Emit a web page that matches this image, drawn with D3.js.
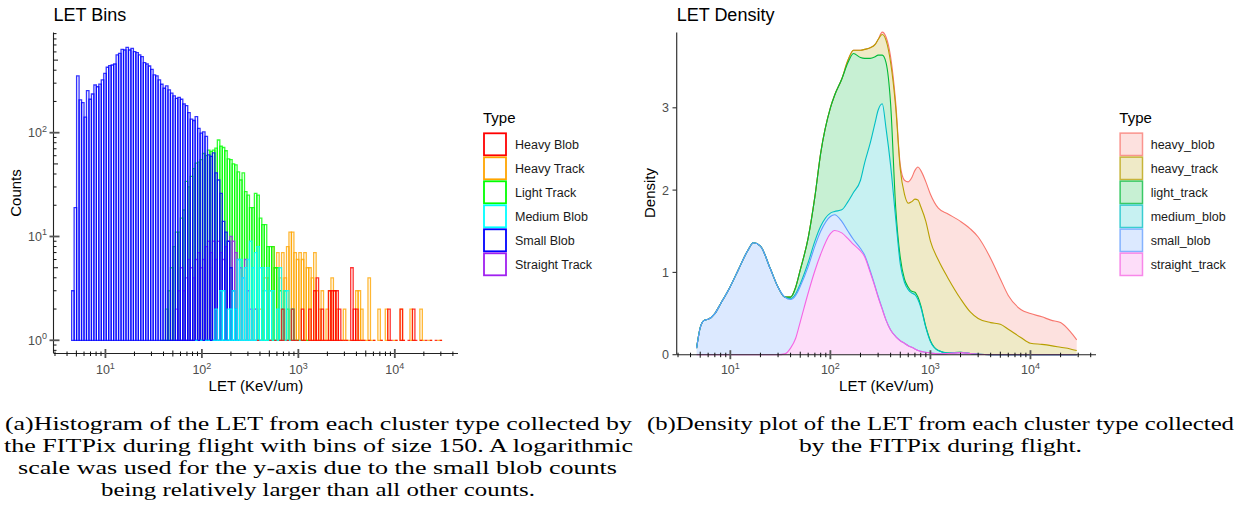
<!DOCTYPE html>
<html>
<head>
<meta charset="utf-8">
<script src="https://cdn.jsdelivr.net/npm/d3@7/dist/d3.min.js"></script>
<style>
  html, body { margin: 0; padding: 0; background: #ffffff; }
  svg { display: block; }
</style>
</head>
<body>
<svg id="fig" width="1239" height="514"></svg>
<script>
// ================= Panel (a): LET histogram =================
const histTypes  = ["Heavy Blob", "Heavy Track", "Light Track", "Medium Blob", "Small Blob", "Straight Track"];
const histColors = ["#FF0000", "#FFA500", "#00FF00", "#00FFFF", "#0000FF", "#A020F0"];

// log10(LET) binning: 150 bins centred from the smallest to the largest LET
const letMin = 4.6;
const letMax = 30000;
const binCount = 150;

// counts per bin; each list starts at the bin index given by its *FirstBin
const heavyBlobFirstBin = 75;
const heavyBlobCounts = [
  1,0,0,0,0, 1,0,1,0,1, 2,0,1,0,2, 1,1,0,2,1, 0,2,1,3,4,
  1,2,1,1,3, 3,3,3,2,1, 1,1,0,5,2, 2,1,1,1,0, 1,0,1,0,0,
  1,0,0,2,1, 0,1,0,2,1, 0,1,0,2,1, 0,1,0,1,0, 1,0,1,0,1
];
const heavyTrackFirstBin = 70;
const heavyTrackCounts = [
  1,0,1,0,2, 0,2,3,4,4, 3,8,5,7,4, 7,4,8,11,11, 7,6,7,6,7,
  5,5,4,7,3, 2,3,1,2,3, 4,3,2,1,1, 2,1,1,1,1, 3,3,2,1,1,
  4,1,1,0,2, 1,0,2,1,0, 1,1,0,2,1, 0,0,2,1,0, 0,2,1,0,1,
  1,0,0,1,1
];
const lightTrackFirstBin = 36;
const lightTrackCounts = [
  1,1,2,3,5, 8,11,11,15,18, 34,30,38,45,51, 52,55,63,60,68,
  66,68,71,85,74, 72,67,56,55,50, 49,42,35,41,27, 25,19,19,26,25,
  15,13,13,8,8, 8,5,5,3,2, 3,2,1,2,1, 1,0,1,0,1
];
const mediumBlobFirstBin = 50;
const mediumBlobCounts = [
  1,0,1,0,1, 1,0,1,2,1, 3,3,1,2,2, 3,2,6,6,4, 5,6,9,5,7,
  8,5,5,3,5, 3,3,1,2,5, 2,3,3,1,2, 1,0,1
];
const smallBlobFirstBin = 0;
const smallBlobCounts = [
  3,19,352,207,195,141,254,210,236,288,
  277,294,322,373,427,442,449,459,561,582,
  636,626,665,626,650,604,590,561,540,473,
  459,439,408,360,352,322,293,268,282,258,
  240,226,214,219,210,189,182,156,135,131,
  143,110,99,102,92,61,59,64,41,35,
  26,14,11,9,5,3,2,1
];
const straightTrackFirstBin = 40;
const straightTrackCounts = [
  1,0,2,3,5, 3,4,6,5,4, 6,7,5,6,8, 9,7,9,6,9,
  7,6,8,9,10, 9,7,6,5,4, 6,3,2,1,2, 0,1
];

const countTickExponents = [0, 1, 2];
const letTickExponents = [1, 2, 3, 4];

// ================= Panel (b): LET density (stacked) =================
const densityTypes  = ["heavy_blob", "heavy_track", "light_track", "medium_blob", "small_blob", "straight_track"];
const densityColors = ["#F8766D", "#B79F00", "#00BA38", "#00BFC4", "#619CFF", "#F564E3"];

const letGrid = [4.6, 5, 5.5, 6, 7, 8, 10, 12, 15, 17, 20, 25, 30, 35, 40, 45, 50, 60, 70, 80,
  100, 110, 130, 150, 170, 200, 220, 250, 280, 300, 330, 360, 400, 450, 500, 550, 600, 650, 700, 750,
  800, 900, 1000, 1200, 1500, 2000, 2500, 3000, 4000, 5000, 6000, 8000, 10000, 13000, 16000, 20000, 25000, 29000];

const heavyBlobDensity = [0,0,0,0,0,0,0,0,0,0, 0,0,0,0,0,0,0,0,0,0,
  0,0,0,0,0,0,0,0,0,0, 0.03,0.04,0.07,0.06,0.05,0.17,0.26,0.29,0.35,0.40,
  0.44,0.48,0.57,0.63,0.78,0.94,1.01,0.99,0.78,0.55, 0.41,0.34,0.36,0.335,0.31,0.30,0.21,0.13];
const heavyTrackDensity = [0,0,0,0,0,0,0,0,0,0, 0,0,0,0,0,0,0,0,0,0,
  0,0,0,0.03,0.04,0.09,0.11,0.13,0.15,0.19, 0.25,0.27,0.50,1.22,1.07,1.03,1.02,1.09,1.13,1.18,
  1.20,1.28,1.21,1.10,0.91,0.65,0.505,0.435,0.39,0.37, 0.31,0.21,0.14,0.125,0.11,0.09,0.07,0.05];
const lightTrackDensity = [0,0,0,0,0,0,0,0,0,0, 0,0,0,0,0.02,0.08,0.17,0.30,0.54,0.89,
  1.28,1.41,1.59,1.69,1.69,1.49,1.27,1.03,0.80,0.67, 0.59,0.80,0.75,0.13,0.08,0.04,0.03,0.02,0.03,0.03,
  0.02,0.01,0.01,0,0,0,0,0,0,0, 0,0,0,0,0,0,0,0];
const mediumBlobDensity = [0,0,0,0,0,0,0,0,0,0, 0,0,0,0,0.01,0.02,0.03,0.05,0.06,0.06,
  0.04,0.04,0.14,0.36,0.57,0.83,1.12,1.55,1.99,2.26, 2.49,2.33,2.00,1.43,0.93,0.74,0.68,0.66,0.66,0.62,
  0.54,0.30,0.14,0.04,0.005,0.005,0,0,0,0, 0,0,0,0,0,0,0,0];
const smallBlobDensity = [0.08,0.33,0.42,0.43,0.50,0.62,0.83,1.03,1.27,1.36, 1.32,1.05,0.82,0.69,0.59,0.52,0.43,0.32,0.30,0.28,
  0.21,0.19,0.14,0.09,0.06,0.03,0.02,0.02,0.01,0.01, 0.01,0,0,0,0,0,0,0,0,0,
  0,0,0,0,0,0,0,0,0,0, 0,0,0,0,0,0,0,0];
const straightTrackDensity = [0,0,0,0,0,0,0,0,0,0, 0,0,0,0.01,0.08,0.20,0.40,0.75,1.02,1.22,
  1.47,1.51,1.48,1.41,1.34,1.26,1.19,1.00,0.82,0.70, 0.55,0.42,0.30,0.22,0.17,0.14,0.11,0.09,0.07,0.05,
  0.04,0.03,0.02,0.01,0.015,0.025,0.015,0.005,0,0, 0,0,0,0,0,0,0,0];

const densityTicks = [0, 1, 2, 3];

// ================= drawing =================
const svg = d3.select("#fig");
const sans = "'Liberation Sans', Arial, Helvetica, sans-serif";
const serif = "'Liberation Serif', 'DejaVu Serif', serif";
const labelGray = "#4D4D4D";

const xDomain = [2.93, 45190];
const xHist = d3.scaleLog().domain(xDomain).range([54, 458]);
const yHist = d3.scaleLog().domain([0.746, 923]).range([353.5, 32.5]);
const xDens = d3.scaleLog().domain(xDomain).range([677, 1096]);
const yDens = d3.scaleLinear().domain([0, 3.915]).range([354.7, 32.5]);

// ---- histogram bars ----
const logLo = Math.log10(letMin), logHi = Math.log10(letMax);
const binStep = (logHi - logLo) / (binCount - 1);
const binEdges = k => [Math.pow(10, logLo + (k - 0.5) * binStep), Math.pow(10, logLo + (k + 0.5) * binStep)];

const histSeries = [
  { first: heavyBlobFirstBin, counts: heavyBlobCounts },
  { first: heavyTrackFirstBin, counts: heavyTrackCounts },
  { first: lightTrackFirstBin, counts: lightTrackCounts },
  { first: mediumBlobFirstBin, counts: mediumBlobCounts },
  { first: smallBlobFirstBin, counts: smallBlobCounts },
  { first: straightTrackFirstBin, counts: straightTrackCounts }
];
// layering of the outlines, back to front
const histDrawOrder = [1, 2, 5, 4, 3, 0];

const gBars = svg.append("g");
histDrawOrder.forEach(i => {
  const s = histSeries[i];
  const bars = s.counts.map((c, j) => ({ k: s.first + j, c })).filter(d => d.c > 0);
  gBars.append("g").selectAll("path").data(bars).join("path")
    .attr("d", d => {
      const [a, b] = binEdges(d.k);
      const x0 = xHist(a), x1 = xHist(b), yb = yHist(1), yt = yHist(d.c);
      return `M${x0},${yb}V${yt}H${x1}V${yb}Z`;
    })
    .attr("fill", "none")
    .attr("stroke", histColors[i])
    .attr("stroke-width", 1.3)
    .attr("stroke-opacity", 0.8)
    .attr("stroke-linejoin", "miter");
});

// ---- log-axis helpers ----
function logValues(domain) {
  const out = [];
  for (let e = -1; e <= 5; e++) for (let m = 1; m <= 9; m++) {
    const v = m * Math.pow(10, e);
    if (v >= domain[0] && v <= domain[1]) out.push({ v, m });
  }
  return out;
}

function drawLogX(g, x, y0) {
  const [r0, r1] = x.range();
  g.append("line").attr("x1", r0).attr("x2", r1).attr("y1", y0).attr("y2", y0)
    .attr("stroke", "#222").attr("stroke-width", 1.1);
  logValues(x.domain()).forEach(({ v, m }) => {
    const px = x(v);
    const up = m === 1 ? 4.5 : m === 5 ? 3 : 2;
    const dn = m === 1 ? 4.5 : m === 5 ? 3 : 2.5;
    g.append("line").attr("x1", px).attr("x2", px).attr("y1", y0 - up).attr("y2", y0 + dn)
      .attr("stroke", m === 1 ? "#555" : "#111").attr("stroke-width", m === 1 ? 1.8 : 1);
  });
  letTickExponents.forEach(e => {
    const t = g.append("text").attr("x", x(Math.pow(10, e))).attr("y", 374)
      .attr("text-anchor", "middle").attr("font-family", sans).attr("font-size", 12.5).attr("fill", labelGray);
    t.append("tspan").text("10");
    t.append("tspan").attr("dy", -5.5).attr("font-size", 9).text(e);
  });
}

// ---- panel (a) axes ----
const gA = svg.append("g");
drawLogX(gA, xHist, 353.5);
gA.append("line").attr("x1", 53.5).attr("x2", 53.5).attr("y1", 32.5).attr("y2", 353.5)
  .attr("stroke", "#222").attr("stroke-width", 1.1);
logValues(yHist.domain()).forEach(({ v, m }) => {
  const py = yHist(v);
  const left = m === 1 ? 4 : 0;
  const right = m === 1 ? 6 : m === 5 ? 4.5 : 3;
  gA.append("line").attr("x1", 53.5 - left).attr("x2", 53.5 + right).attr("y1", py).attr("y2", py)
    .attr("stroke", m === 1 ? "#555" : "#111").attr("stroke-width", m === 1 ? 1.8 : 1);
});
countTickExponents.forEach(e => {
  const t = gA.append("text").attr("x", 47).attr("y", yHist(Math.pow(10, e)) + 4.5)
    .attr("text-anchor", "end").attr("font-family", sans).attr("font-size", 12.5).attr("fill", labelGray);
  t.append("tspan").text("10");
  t.append("tspan").attr("dy", -5.5).attr("font-size", 9).text(e);
});
gA.append("text").attr("x", 53.5).attr("y", 20.7).attr("font-family", sans).attr("font-size", 18).text("LET Bins");
gA.append("text").attr("x", 256).attr("y", 391).attr("text-anchor", "middle")
  .attr("font-family", sans).attr("font-size", 15).text("LET (KeV/um)");
gA.append("text").attr("transform", "translate(20.5,193) rotate(-90)").attr("text-anchor", "middle")
  .attr("font-family", sans).attr("font-size", 15).text("Counts");

// ---- panel (a) legend ----
const legA = svg.append("g").attr("transform", "translate(483,0)");
legA.append("text").attr("x", 0).attr("y", 122.7).attr("font-family", sans).attr("font-size", 15).text("Type");
histTypes.forEach((t, i) => {
  const y = 132.3 + i * 24;
  legA.append("rect").attr("x", 1).attr("y", y + 1).attr("width", 22).attr("height", 22)
    .attr("fill", "#fff").attr("stroke", histColors[i]).attr("stroke-width", 1.8);
  legA.append("text").attr("x", 32).attr("y", y + 16.5).attr("font-family", sans).attr("font-size", 12.5)
    .attr("fill", "#1a1a1a").text(t);
});

// ---- panel (b) stacked density ----
const densityRows = letGrid.map((v, i) => ({
  LET: v,
  heavy_blob: heavyBlobDensity[i],
  heavy_track: heavyTrackDensity[i],
  light_track: lightTrackDensity[i],
  medium_blob: mediumBlobDensity[i],
  small_blob: smallBlobDensity[i],
  straight_track: straightTrackDensity[i]
}));
const stackOrder = densityTypes.slice().reverse(); // straight_track at the bottom
const stacked = d3.stack().keys(stackOrder)(densityRows);
const byKey = {};
stacked.forEach(s => { byKey[s.key] = s; });

const area = d3.area().x(d => xDens(d.data.LET)).y0(d => yDens(d[0])).y1(d => yDens(d[1])).curve(d3.curveMonotoneX);
const line = d3.line().x(d => xDens(d.data.LET)).y(d => yDens(d[1])).curve(d3.curveMonotoneX);

const gB = svg.append("g");
densityTypes.forEach((k, i) => {
  gB.append("path").attr("d", area(byKey[k])).attr("fill", densityColors[i]).attr("fill-opacity", 0.22).attr("stroke", "none");
  gB.append("path").attr("d", line(byKey[k])).attr("fill", "none").attr("stroke", densityColors[i]).attr("stroke-width", 1.1);
});

// ---- panel (b) axes ----
drawLogX(gB, xDens, 354.7);
gB.append("line").attr("x1", 676.7).attr("x2", 676.7).attr("y1", 32.5).attr("y2", 354.7)
  .attr("stroke", "#333").attr("stroke-width", 1.2);
densityTicks.forEach(v => {
  gB.append("line").attr("x1", 672.5).attr("x2", 676.7).attr("y1", yDens(v)).attr("y2", yDens(v))
    .attr("stroke", "#333").attr("stroke-width", 1.1);
  gB.append("text").attr("x", 669).attr("y", yDens(v) + 4.4).attr("text-anchor", "end")
    .attr("font-family", sans).attr("font-size", 12.5).attr("fill", labelGray).text(v);
});
gB.append("text").attr("x", 676.7).attr("y", 20.7).attr("font-family", sans).attr("font-size", 18).text("LET Density");
gB.append("text").attr("x", 886.5).attr("y", 391).attr("text-anchor", "middle")
  .attr("font-family", sans).attr("font-size", 15).text("LET (KeV/um)");
gB.append("text").attr("transform", "translate(655,193) rotate(-90)").attr("text-anchor", "middle")
  .attr("font-family", sans).attr("font-size", 15).text("Density");

// ---- panel (b) legend ----
const legB = svg.append("g").attr("transform", "translate(1119.3,0)");
legB.append("text").attr("x", 0).attr("y", 122.7).attr("font-family", sans).attr("font-size", 15).text("Type");
densityTypes.forEach((t, i) => {
  const y = 132.3 + i * 24;
  legB.append("rect").attr("x", 0.8).attr("y", y + 0.8).attr("width", 22.4).attr("height", 22.4)
    .attr("fill", densityColors[i]).attr("fill-opacity", 0.22)
    .attr("stroke", densityColors[i]).attr("stroke-opacity", 0.75).attr("stroke-width", 1.5);
  legB.append("text").attr("x", 31.4).attr("y", y + 16.5).attr("font-family", sans).attr("font-size", 12.5)
    .attr("fill", "#1a1a1a").text(t);
});

// ---- captions ----
const captionA = [
  { text: "(a)Histogram of the LET from each cluster type collected by", cx: 318.5, y: 430, w: 627 },
  { text: "the FITPix during flight with bins of size 150. A logarithmic", cx: 318.5, y: 452, w: 629 },
  { text: "scale was used for the y-axis due to the small blob counts", cx: 317.5, y: 474, w: 599 },
  { text: "being relatively larger than all other counts.", cx: 318, y: 496, w: 434 }
];
const captionB = [
  { text: "(b)Density plot of the LET from each cluster type collected", cx: 940.5, y: 430, w: 587 },
  { text: "by the FITPix during flight.", cx: 940.5, y: 452, w: 283 }
];
captionA.concat(captionB).forEach(c => {
  svg.append("text").attr("x", c.cx).attr("y", c.y).attr("text-anchor", "middle")
    .attr("font-family", serif).attr("font-size", 18.5).attr("fill", "#000")
    .attr("textLength", c.w).attr("lengthAdjust", "spacingAndGlyphs").text(c.text);
});
</script>
</body>
</html>
